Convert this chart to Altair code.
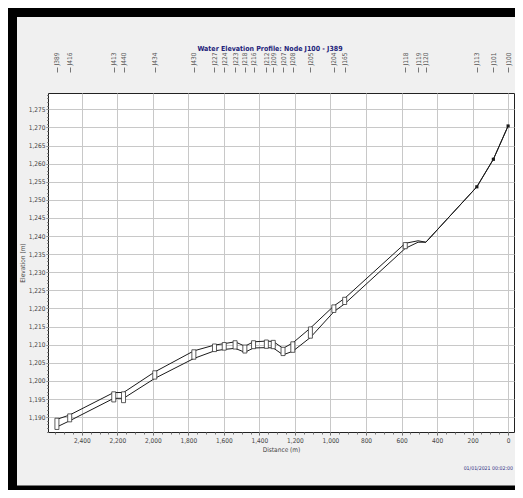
import altair as alt
import pandas as pd

title_text = "Water Elevation Profile: Node J100 - J389"
stamp_text = "01/01/2021 00:02:00"
x_title = "Distance (m)"
y_title = "Elevation (m)"

nodes = ["J389", "J416", "J413", "J440", "J434", "J430", "J227", "J224", "J223", "J218",
         "J216", "J212", "J209", "J207", "J208", "J205", "J204", "J165", "J118", "J119",
         "J120", "J113", "J101", "J100"]
node_dist = [2540, 2468, 2220, 2165, 1989, 1769, 1653, 1598, 1537, 1482,
             1433, 1361, 1322, 1267, 1212, 1113, 981, 920, 579, 507,
             463, 176, 83, 0]
upper = [1189.4, 1190.6, 1196.8, 1196.8, 1202.5, 1208.3, 1209.9, 1210.3, 1210.8, 1209.6,
         1210.8, 1211.0, 1210.9, 1209.0, 1210.5, 1214.6, 1220.7, 1222.8, 1238.0, 1238.7,
         1238.3, 1253.6, 1261.2, 1270.4]
lower = [1187.3, 1189.0, 1195.2, 1195.2, 1200.7, 1206.2, 1208.3, 1208.7, 1209.0, 1207.9,
         1209.1, 1209.2, 1209.1, 1207.2, 1208.2, 1212.0, 1219.1, 1221.3, 1236.6, 1238.3,
         1238.3, 1253.6, 1261.2, 1270.4]

box_nodes = ["J389", "J416", "J413", "J440", "J434", "J430", "J227", "J224", "J223", "J218",
             "J216", "J212", "J209", "J207", "J208", "J205", "J204", "J165", "J118"]
box_low = [1186.6, 1188.7, 1194.2, 1194.0, 1200.5, 1206.0, 1208.1, 1208.5, 1208.8, 1207.7,
           1208.9, 1209.0, 1208.9, 1207.0, 1207.9, 1211.8, 1218.9, 1221.1, 1236.5]
box_high = [1189.7, 1190.9, 1197.0, 1197.0, 1202.8, 1208.6, 1210.2, 1210.6, 1211.1, 1209.9,
            1211.1, 1211.3, 1211.2, 1209.3, 1210.8, 1214.9, 1221.0, 1223.1, 1238.2]

dot_nodes = ["J113", "J101", "J100"]

x_major = [0, 200, 400, 600, 800, 1000, 1200, 1400, 1600, 1800, 2000, 2200, 2400]
x_minor = list(range(0, 2561, 50))
y_major = list(range(1190, 1276, 5))
y_minor = list(range(1186, 1280))

FONT = "Liberation Sans Narrow, DejaVu Sans Condensed, Liberation Sans, sans-serif"
W, H = 466, 339
PB = 58

df = pd.DataFrame({"node": nodes, "dist": node_dist, "upper": upper, "lower": lower})
dist_of = dict(zip(nodes, node_dist))
bx = pd.DataFrame({"node": box_nodes, "dist": [dist_of[n] for n in box_nodes],
                   "lo": box_low, "hi": box_high})
dots = df[df["node"].isin(dot_nodes)]

xs = alt.Scale(domain=[-5, 2562], reverse=True, nice=False, zero=False)
ys = alt.Scale(domain=[1185.9, 1279.5], nice=False, zero=False)

label_expr = ("[" + ",".join("'%s'" % n for n in nodes) + "][indexof(["
              + ",".join(str(d) for d in node_dist) + "], datum.value)]")

ax_bottom = alt.Axis(orient="bottom", values=x_major, format=",d", grid=True, gridColor="#c8c8c8",
                     tickSize=3, tickColor="#666", labelPadding=2, domain=False,
                     labelFont=FONT, labelFontSize=6.5, labelColor="#444",
                     titleFont=FONT, titleFontSize=6.5, titleFontWeight="normal",
                     titleColor="#444", titlePadding=3, labelFlush=False, labelOverlap=False)
ax_bottom_minor = alt.Axis(orient="bottom", values=x_minor, labels=False, grid=False,
                           tickSize=2, tickColor="#777", domain=False)
ax_left = alt.Axis(orient="left", values=y_major, format=",d", grid=True, gridColor="#c8c8c8",
                   tickSize=2, tickColor="#666", labelPadding=1, domain=False,
                   labelFont=FONT, labelFontSize=6.5, labelColor="#444",
                   titleFont=FONT, titleFontSize=6.5, titleFontWeight="normal",
                   titleColor="#444", titlePadding=3, labelOverlap=False)
ax_left_minor = alt.Axis(orient="left", values=y_minor, labels=False, grid=False,
                         tickSize=1.5, tickColor="#888", domain=False)
ax_top = alt.Axis(orient="top", values=node_dist, labelExpr=label_expr, labelAngle=270,
                  labelAlign="left", labelBaseline="middle", offset=21, tickSize=5,
                  tickColor="#777", labelPadding=2, domain=False, grid=False,
                  labelFont=FONT, labelFontSize=6.5, labelColor="#555",
                  labelOverlap=False, labelFlush=False, labelBound=False)

frame = alt.Chart(pd.DataFrame({"k": [0]})).mark_rect(
    fillOpacity=0, stroke="black", strokeWidth=9
).encode(x=alt.value(-35.5), x2=alt.value(W + 60), y=alt.value(-80.5), y2=alt.value(H + PB))

line_up = alt.Chart(df).mark_line(color="#1a1a1a", strokeWidth=1).encode(
    x=alt.X("dist:Q", scale=xs, axis=ax_bottom, title=x_title),
    y=alt.Y("upper:Q", scale=ys, axis=ax_left, title=y_title),
    order="dist:Q",
)
line_lo = alt.Chart(df).mark_line(color="#1a1a1a", strokeWidth=1).encode(
    x=alt.X("dist:Q", scale=xs, axis=ax_bottom_minor, title=None),
    y=alt.Y("lower:Q", scale=ys, axis=ax_left_minor, title=None),
    order="dist:Q",
)
boxes = alt.Chart(bx).mark_bar(size=4, fill="white", stroke="#333", strokeWidth=0.8).encode(
    x=alt.X("dist:Q", scale=xs, axis=ax_top, title=None),
    y=alt.Y("lo:Q", scale=ys, axis=None),
    y2="hi:Q",
)
pts = alt.Chart(dots).mark_point(shape="square", filled=True, size=10, color="#1a1a1a",
                                 opacity=1).encode(
    x=alt.X("dist:Q", scale=xs, axis=None),
    y=alt.Y("upper:Q", scale=ys, axis=None),
)
title = alt.Chart(pd.DataFrame({"t": [title_text]})).mark_text(
    font=FONT, fontSize=7, fontWeight="bold", color="#23237a", align="center"
).encode(text="t:N", x=alt.value(222), y=alt.value(-44))
stamp = alt.Chart(pd.DataFrame({"t": [stamp_text]})).mark_text(
    font=FONT, fontSize=5.2, color="#2b2b80", align="right"
).encode(text="t:N", x=alt.value(W - 1), y=alt.value(375))

chart = alt.layer(frame, line_up, line_lo, boxes, pts, title, stamp).resolve_scale(
    x="shared", y="shared"
).resolve_axis(x="independent", y="independent").properties(
    width=W, height=H,
    autosize=alt.AutoSizeParams(type="none"),
    padding={"left": 40, "top": 85, "right": 1, "bottom": PB},
    background="#f0f0f0",
).configure_view(fill="white", stroke="#222", strokeWidth=1)

chart.save("out.html", embed_options={"renderer": "svg", "actions": False})
